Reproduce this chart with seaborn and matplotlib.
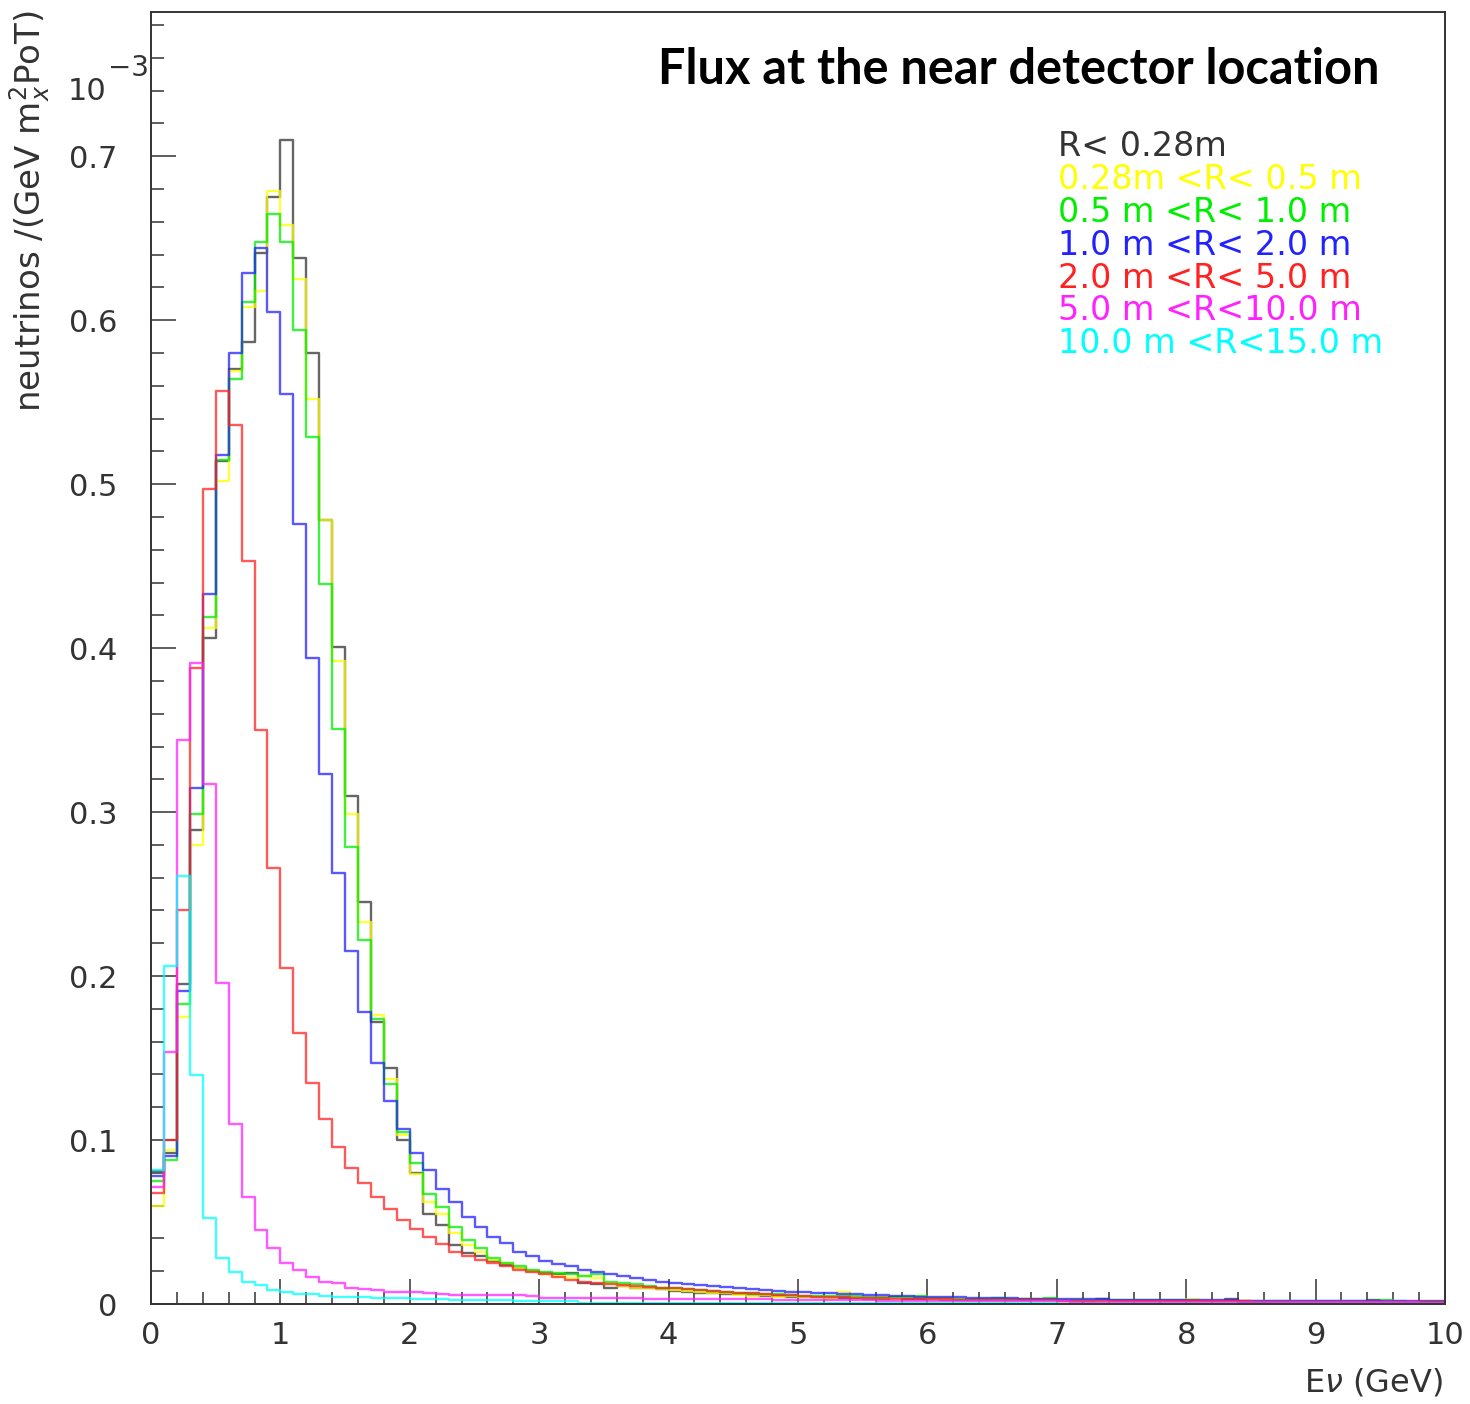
import numpy as np
import pandas as pd
import matplotlib
matplotlib.use("Agg")
import matplotlib.pyplot as plt
from matplotlib.ticker import MultipleLocator, FuncFormatter
import seaborn as sns

# neutrino flux per 0.1 GeV bin (units of 1e-3)
labels = ["R< 0.28m", "0.28m <R< 0.5 m", "0.5 m <R< 1.0 m", "1.0 m <R< 2.0 m",
          "2.0 m <R< 5.0 m", "5.0 m <R<10.0 m", "10.0 m <R<15.0 m"]
colors = ["#333333", "#ffff00", "#00ee00", "#2222ff", "#ff2222", "#ff22ff", "#00ffff"]

flux_r028 = [0.081, 0.092, 0.195, 0.289, 0.406, 0.514, 0.570, 0.587, 0.641, 0.675,
             0.710, 0.638, 0.580, 0.478, 0.401, 0.310, 0.245, 0.172, 0.144, 0.100,
             0.080, 0.055, 0.048, 0.036, 0.031, 0.029, 0.026, 0.024, 0.022, 0.020,
             0.019, 0.018, 0.019, 0.013, 0.0125, 0.0098, 0.011, 0.010, 0.0095, 0.009,
             0.008, 0.0075, 0.007, 0.0065, 0.006, 0.0058, 0.0055, 0.005, 0.0048, 0.0045,
             0.0042, 0.004, 0.0038, 0.0036, 0.0035, 0.0033, 0.0032, 0.0045, 0.003, 0.0029,
             0.0028, 0.0027, 0.0026, 0.0026, 0.0025, 0.0024, 0.0024, 0.0023, 0.0022, 0.0022,
             0.0021, 0.0021, 0.002, 0.0032, 0.002, 0.0019, 0.0019, 0.0018, 0.0018, 0.0017,
             0.0017, 0.0016, 0.0016, 0.0028, 0.0015, 0.0015, 0.0014, 0.0014, 0.0014, 0.0013,
             0.0013, 0.0013, 0.0012, 0.0012, 0.0022, 0.0012, 0.0011, 0.0011, 0.0011, 0.001]

flux_r05 = [0.060, 0.094, 0.175, 0.280, 0.412, 0.502, 0.569, 0.608, 0.618, 0.679,
            0.658, 0.625, 0.552, 0.478, 0.392, 0.299, 0.233, 0.176, 0.137, 0.103,
            0.079, 0.062, 0.055, 0.043, 0.036, 0.032, 0.027, 0.025, 0.022, 0.020,
            0.018, 0.017, 0.016, 0.017, 0.016, 0.012, 0.011, 0.010, 0.0095, 0.009,
            0.0085, 0.008, 0.0075, 0.007, 0.0065, 0.0055, 0.005, 0.0055, 0.0045, 0.0048,
            0.0045, 0.004, 0.0038, 0.0071, 0.004, 0.0037, 0.0035, 0.0034, 0.0045, 0.0045,
            0.003, 0.0029, 0.0028, 0.0027, 0.0026, 0.0025, 0.0025, 0.0032, 0.0024, 0.0023,
            0.0023, 0.0022, 0.0022, 0.0021, 0.0021, 0.002, 0.002, 0.0019, 0.0019, 0.0019,
            0.0031, 0.0018, 0.0018, 0.0017, 0.0017, 0.0016, 0.0016, 0.0016, 0.0015, 0.0015,
            0.0015, 0.0014, 0.0014, 0.0014, 0.0013, 0.0013, 0.0013, 0.0012, 0.0012, 0.0012]

flux_r1 = [0.075, 0.088, 0.183, 0.299, 0.419, 0.515, 0.564, 0.611, 0.648, 0.665,
           0.648, 0.594, 0.529, 0.439, 0.351, 0.279, 0.222, 0.174, 0.134, 0.105,
           0.086, 0.067, 0.059, 0.047, 0.039, 0.034, 0.028, 0.025, 0.023, 0.021,
           0.0195, 0.019, 0.0185, 0.017, 0.018, 0.0135, 0.013, 0.012, 0.011, 0.010,
           0.0095, 0.009, 0.0085, 0.008, 0.0075, 0.007, 0.0065, 0.006, 0.0058, 0.0055,
           0.005, 0.0048, 0.0046, 0.0047, 0.005, 0.0045, 0.0043, 0.0042, 0.004, 0.0048,
           0.0035, 0.0034, 0.0033, 0.0032, 0.0031, 0.0036, 0.003, 0.0029, 0.0028, 0.0036,
           0.0027, 0.0026, 0.0026, 0.0025, 0.0024, 0.0024, 0.0023, 0.0023, 0.0022, 0.0022,
           0.0021, 0.0021, 0.002, 0.002, 0.0019, 0.0019, 0.0019, 0.0018, 0.0018, 0.0018,
           0.0017, 0.0017, 0.0017, 0.0016, 0.0016, 0.0026, 0.0016, 0.0015, 0.0015, 0.0015]

flux_r2 = [0.078, 0.090, 0.191, 0.315, 0.433, 0.518, 0.580, 0.629, 0.644, 0.605,
           0.555, 0.476, 0.394, 0.323, 0.263, 0.215, 0.178, 0.147, 0.124, 0.107,
           0.092, 0.082, 0.070, 0.062, 0.053, 0.047, 0.041, 0.037, 0.032, 0.029,
           0.026, 0.0245, 0.023, 0.021, 0.0195, 0.0185, 0.017, 0.016, 0.0146, 0.0136,
           0.0128, 0.012, 0.0115, 0.011, 0.0102, 0.0095, 0.009, 0.0085, 0.008, 0.0076,
           0.0072, 0.0068, 0.0065, 0.0062, 0.0058, 0.0055, 0.0052, 0.005, 0.0047, 0.0045,
           0.0043, 0.0042, 0.004, 0.0038, 0.0037, 0.0036, 0.0034, 0.0033, 0.0032, 0.0031,
           0.003, 0.0029, 0.0028, 0.0028, 0.0027, 0.0026, 0.0026, 0.0025, 0.0024, 0.0024,
           0.0023, 0.0023, 0.0022, 0.0022, 0.0021, 0.0021, 0.002, 0.002, 0.0019, 0.0019,
           0.0019, 0.0018, 0.0018, 0.0018, 0.0017, 0.0017, 0.0017, 0.0016, 0.0016, 0.0016]

flux_r5 = [0.068, 0.100, 0.240, 0.388, 0.497, 0.557, 0.536, 0.453, 0.350, 0.266,
           0.205, 0.165, 0.135, 0.113, 0.096, 0.083, 0.0736, 0.065, 0.058, 0.051,
           0.0455, 0.041, 0.0366, 0.032, 0.029, 0.027, 0.025, 0.023, 0.021, 0.0195,
           0.0185, 0.0165, 0.0146, 0.0136, 0.013, 0.012, 0.0115, 0.011, 0.0105, 0.010,
           0.0095, 0.009, 0.0085, 0.008, 0.0075, 0.007, 0.0065, 0.006, 0.0055, 0.0052,
           0.0048, 0.0045, 0.0042, 0.004, 0.0038, 0.0036, 0.0034, 0.0032, 0.0031, 0.003,
           0.0029, 0.0028, 0.0027, 0.0026, 0.0025, 0.0024, 0.0024, 0.0023, 0.0022, 0.0022,
           0.0021, 0.0021, 0.002, 0.002, 0.0019, 0.0019, 0.0018, 0.0018, 0.0018, 0.0017,
           0.0017, 0.0017, 0.0016, 0.0016, 0.0016, 0.0015, 0.0015, 0.0015, 0.0015, 0.0014,
           0.0014, 0.0014, 0.0014, 0.0013, 0.0013, 0.0013, 0.0013, 0.0012, 0.0012, 0.0012]

flux_r10 = [0.0716, 0.154, 0.344, 0.391, 0.317, 0.196, 0.110, 0.065, 0.045, 0.034,
            0.025, 0.021, 0.0167, 0.0136, 0.0126, 0.010, 0.009, 0.0085, 0.0075, 0.0075,
            0.0075, 0.007, 0.0058, 0.0056, 0.0055, 0.0054, 0.0053, 0.0052, 0.0052, 0.0051,
            0.0036, 0.0036, 0.0035, 0.0035, 0.0035, 0.0034, 0.0034, 0.0034, 0.0033, 0.0033,
            0.0033, 0.0032, 0.0032, 0.0031, 0.0031, 0.003, 0.003, 0.0029, 0.0026, 0.0025,
            0.0024, 0.0024, 0.0023, 0.0023, 0.0022, 0.0022, 0.0021, 0.0021, 0.002, 0.002,
            0.0019, 0.0019, 0.0018, 0.0018, 0.0018, 0.0017, 0.0017, 0.0017, 0.0016, 0.0016,
            0.0016, 0.0015, 0.0015, 0.0015, 0.0015, 0.0014, 0.0014, 0.0014, 0.0014, 0.0013,
            0.0013, 0.0013, 0.0013, 0.0012, 0.0012, 0.0012, 0.0012, 0.0011, 0.0011, 0.0011,
            0.0011, 0.0011, 0.001, 0.001, 0.001, 0.001, 0.001, 0.001, 0.0009, 0.0009]

flux_r15 = [0.0818, 0.206, 0.261, 0.1395, 0.0525, 0.028, 0.0197, 0.0136, 0.0116, 0.0085,
            0.0075, 0.0061, 0.006, 0.005, 0.0045, 0.0042, 0.004, 0.0038, 0.0036, 0.0034,
            0.0032, 0.003, 0.0028, 0.0026, 0.0025, 0.0024, 0.0023, 0.0022, 0.0021, 0.002,
            0.0019, 0.0018, 0.0017, 0.0008, 0.0008, 0.0008, 0.0007, 0.0007, 0.0007, 0.0007,
            0.0006, 0.0006, 0.0006, 0.0006, 0.0006, 0.0006, 0.0005, 0.0005, 0.0005, 0.0005,
            0.0005, 0.0005, 0.0005, 0.0005, 0.0005, 0.0004, 0.0004, 0.0004, 0.0004, 0.0004,
            0.0004, 0.0004, 0.0004, 0.0004, 0.0004, 0.0004, 0.0004, 0.0004, 0.0004, 0.0004,
            0.0003, 0.0003, 0.0003, 0.0003, 0.0003, 0.0003, 0.0003, 0.0003, 0.0003, 0.0003,
            0.0003, 0.0003, 0.0003, 0.0003, 0.0003, 0.0003, 0.0003, 0.0003, 0.0003, 0.0003,
            0.0003, 0.0003, 0.0003, 0.0003, 0.0003, 0.0003, 0.0003, 0.0003, 0.0003, 0.0003]

series = [flux_r028, flux_r05, flux_r1, flux_r2, flux_r5, flux_r10, flux_r15]
edges = np.linspace(0, 10, 101)
centers = (edges[:-1] + edges[1:]) / 2

df = pd.DataFrame({
    "E": np.tile(centers, len(labels)),
    "flux": np.concatenate(series),
    "R": np.repeat(labels, len(centers)),
})

sns.set_style("white")
plt.rcParams["font.family"] = ["DejaVu Sans"]

W, H = 1470, 1404
fig = plt.figure(figsize=(W / 100, H / 100), dpi=100)
ax = fig.add_axes([151 / W, 1 - 1304 / H, (1445 - 151) / W, (1304 - 12) / H])

# reversed order so the first histogram ends up underneath, as in ROOT
sns.histplot(data=df, x="E", weights="flux", hue="R", hue_order=labels[::-1],
             palette=dict(zip(labels, colors)), binwidth=0.1, binrange=(0, 10),
             element="step", fill=False, legend=False, ax=ax,
             linewidth=1.7, alpha=0.75)

ax.set_xlim(0, 10)
ax.set_ylim(0, 0.788)
ax.set_xlabel("")
ax.set_ylabel("")

ax.xaxis.set_major_locator(MultipleLocator(1))
ax.xaxis.set_minor_locator(MultipleLocator(0.2))
ax.yaxis.set_major_locator(MultipleLocator(0.1))
ax.yaxis.set_minor_locator(MultipleLocator(0.02))
ax.yaxis.set_major_formatter(FuncFormatter(lambda v, p: "0" if abs(v) < 1e-9 else f"{v:.1f}"))
ax.tick_params(which="both", direction="in", bottom=True, left=True, top=False, right=False,
               color="#333333", width=1.1, labelcolor="#333333", labelsize=22)
ax.tick_params(which="major", length=18)
ax.tick_params(which="minor", length=9)
ax.tick_params(axis="x", which="major", pad=12)
ax.tick_params(axis="y", which="major", pad=24)
for s in ax.spines.values():
    s.set_color("#333333")
    s.set_linewidth(1.4)

fig.text(1443 / W, 1 - 1382 / H, r"E$\nu$ (GeV)", ha="right", va="center",
         fontsize=23, color="#333333")
fig.text(30 / W, 1 - 10 / H, r"neutrinos /(GeV m$^{2}_{x}$PoT)", rotation=90,
         ha="center", va="top", fontsize=24.5, color="#333333")
fig.text(68 / W, 1 - 100 / H, "10", ha="left", va="baseline",
         fontsize=22, color="#333333")
fig.text(108 / W, 1 - 76 / H, "\u22123", ha="left", va="baseline",
         fontsize=20, color="#333333")

fig.text(658 / W, 1 - 70 / H, "Flux at the near detector location", ha="left",
         va="center", fontsize=35, fontweight="bold", family="Lato", color="black")

for i, (lab, col) in enumerate(zip(labels, colors)):
    fig.text(1058 / W, 1 - (147 + 32.8 * i) / H, lab, ha="left", va="center",
             fontsize=24, color=col)

fig.savefig("out.png", dpi=100)
